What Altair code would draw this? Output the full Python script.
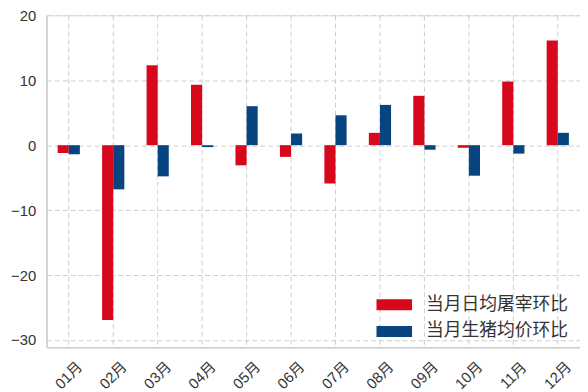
import altair as alt
import pandas as pd

months = ["01月", "02月", "03月", "04月", "05月", "06月",
          "07月", "08月", "09月", "10月", "11月", "12月"]
slaughter = [-1.2, -26.9, 12.3, 9.3, -3.1, -1.8, -5.9, 1.9, 7.6, -0.4, 9.8, 16.1]
price = [-1.4, -6.8, -4.8, -0.3, 6.0, 1.8, 4.6, 6.2, -0.7, -4.7, -1.3, 1.9]
series_names = ["当月日均屠宰环比", "当月生猪均价环比"]
colors = ["#d7071c", "#084580"]
y_ticks = [-30, -20, -10, 0, 10, 20]

rows = []
for m, a, b in zip(months, slaughter, price):
    rows.append({"month": m, "series": series_names[0], "value": a})
    rows.append({"month": m, "series": series_names[1], "value": b})
df = pd.DataFrame(rows)

font = "Liberation Sans, Noto Sans CJK SC, sans-serif"
grid_color = "#cccccc"

chart = alt.Chart(df).mark_bar().encode(
    x=alt.X("month:N", sort=months,
            scale=alt.Scale(paddingInner=0, paddingOuter=0),
            axis=alt.Axis(title=None, labelAngle=-45, bandPosition=0.5,
                          labelAlign="center", labelBaseline="middle",
                          grid=True, gridColor=grid_color, gridDash=[5, 3],
                          ticks=False, domainColor=grid_color, domainWidth=1.5,
                          labelFontSize=15, labelColor="#333333",
                          labelFont=font, labelPadding=28)),
    xOffset=alt.XOffset("series:N", sort=series_names,
                        scale=alt.Scale(paddingInner=0, paddingOuter=1)),
    y=alt.Y("value:Q",
            scale=alt.Scale(domain=[-31.1, 20], nice=False, zero=False),
            axis=alt.Axis(title=None, values=y_ticks, grid=True,
                          gridColor=grid_color, gridDash=[5, 3], ticks=False,
                          domainColor=grid_color, domainWidth=1.5,
                          labelFontSize=15, labelColor="#333333",
                          labelFont=font, labelPadding=11)),
    color=alt.Color("series:N",
                    scale=alt.Scale(domain=series_names, range=colors),
                    legend=alt.Legend(title=None, orient="none",
                                      legendX=334, legendY=275,
                                      symbolType="M-1,-0.31H1V0.31H-1Z",
                                      symbolSize=1296, symbolStrokeWidth=0,
                                      symbolOpacity=1,
                                      labelFontSize=18, labelFont=font,
                                      labelColor="#333333", labelOffset=14,
                                      rowPadding=-5, padding=0)),
).properties(
    width=540, height=336,
    autosize=alt.AutoSizeParams(type="none"),
    padding={"left": 39, "top": 5, "right": 0, "bottom": 43},
).configure_view(strokeWidth=0).configure(background="white")

chart.save("out.html", embed_options={"renderer": "svg", "actions": False})
